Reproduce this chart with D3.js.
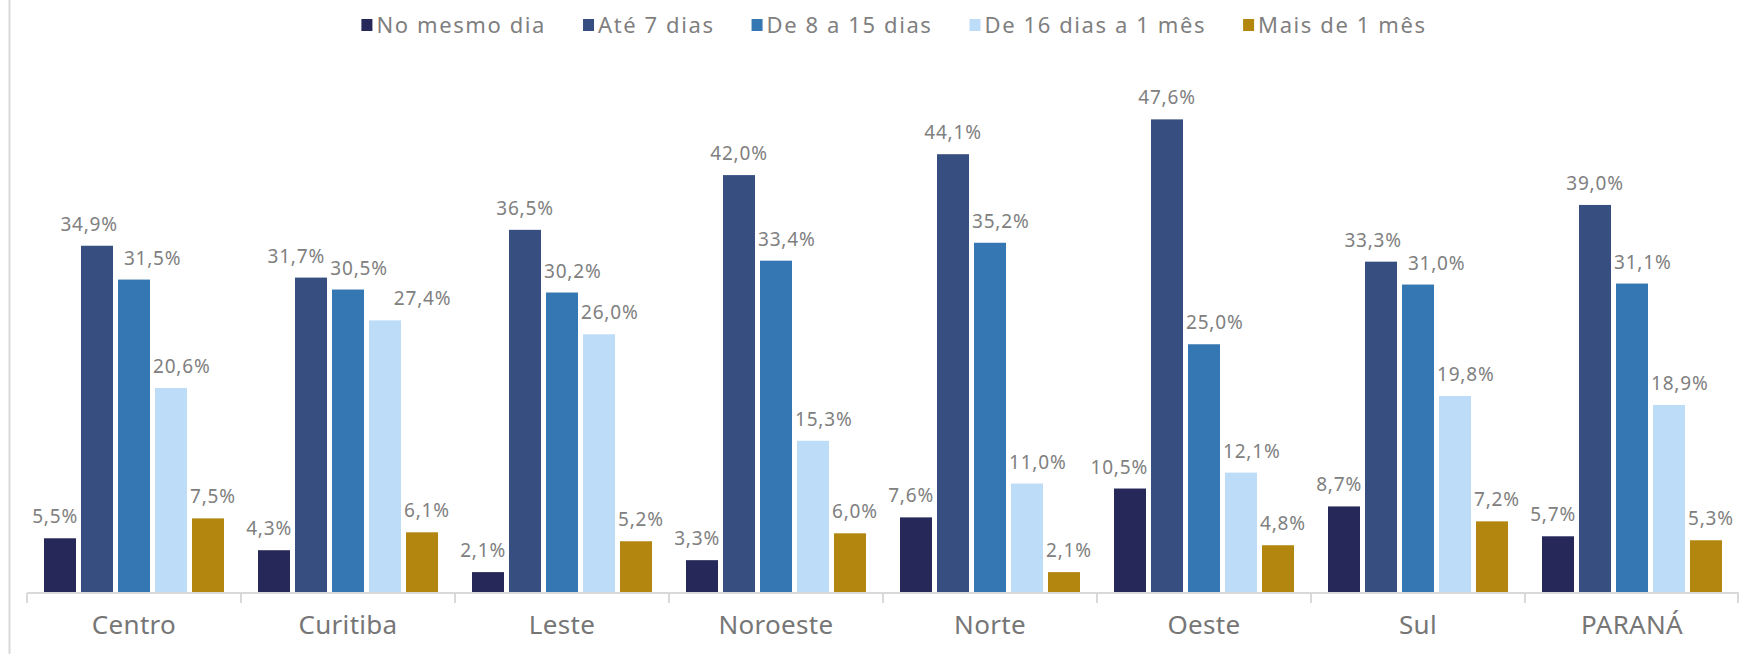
<!DOCTYPE html>
<html>
<head>
<meta charset="utf-8">
<script src="https://cdn.jsdelivr.net/npm/d3@7"></script>
<style>
  body { margin: 0; background: #fff; }
  svg text { font-family: "Noto Sans", "Open Sans", sans-serif; }
</style>
</head>
<body>
<div id="chart-div"></div>
<script>
// dados ------------------------------------------------------------------
const categories = ['Centro', 'Curitiba', 'Leste', 'Noroeste', 'Norte', 'Oeste', 'Sul', 'PARANÁ'];
const seriesNames = ['No mesmo dia', 'Até 7 dias', 'De 8 a 15 dias', 'De 16 dias a 1 mês', 'Mais de 1 mês'];
const noMesmoDia = [5.5, 4.3, 2.1, 3.3, 7.6, 10.5, 8.7, 5.7];
const ate7Dias   = [34.9, 31.7, 36.5, 42.0, 44.1, 47.6, 33.3, 39.0];
const de8a15     = [31.5, 30.5, 30.2, 33.4, 35.2, 25.0, 31.0, 31.1];
const de16a1Mes  = [20.6, 27.4, 26.0, 15.3, 11.0, 12.1, 19.8, 18.9];
const mais1Mes   = [7.5, 6.1, 5.2, 6.0, 2.1, 4.8, 7.2, 5.3];
const seriesValues = [noMesmoDia, ate7Dias, de8a15, de16a1Mes, mais1Mes];
const colors = ['#27285A', '#374E81', '#3577B3', '#BDDCF8', '#B3860F'];

// tamanho ----------------------------------------------------------------
const width = 1739, height = 654;
const plotLeft = 27, plotRight = 1739, baseY = 593;

const svg = d3.select('#chart-div')
  .append('svg')
  .attr('width', width)
  .attr('height', height);

// borda esquerda
svg.append('line')
  .attr('x1', 9.5).attr('x2', 9.5)
  .attr('y1', 0).attr('y2', height)
  .attr('stroke', '#d9d9d9')
  .attr('stroke-width', 2);

// escalas ----------------------------------------------------------------
const x0 = d3.scaleBand()
  .domain(categories)
  .range([plotLeft, plotRight]);
const gp = 17;
const x1 = d3.scaleBand()
  .domain(seriesNames)
  .range([gp, x0.bandwidth() - gp])
  .paddingInner(0.135);
const y = d3.scaleLinear()
  .domain([0, 50])
  .range([baseY, baseY - 497.5]);

const fmt = v => d3.format('.1f')(v).replace('.', ',') + '%';

// barras -----------------------------------------------------------------
const groups = svg.append('g')
  .selectAll('g')
  .data(categories)
  .enter()
  .append('g')
  .attr('transform', d => 'translate(' + x0(d) + ',0)');

const rowOf = (c, i) => seriesNames.map((s, j) => ({s: s, j: j, v: seriesValues[j][i]}));

groups.selectAll('rect')
  .data(rowOf)
  .enter()
  .append('rect')
  .attr('x', d => x1(d.s))
  .attr('y', d => y(d.v))
  .attr('width', x1.bandwidth())
  .attr('height', d => baseY - y(d.v))
  .attr('fill', d => colors[d.j]);

const labels = groups.selectAll('text')
  .data(rowOf)
  .enter()
  .append('text')
  .attr('text-anchor', 'middle')
  .attr('y', d => y(d.v) - 15)
  .attr('font-size', '19px')
  .attr('letter-spacing', '0.8px')
  .attr('fill', '#808080')
  .text(d => fmt(d.v));

// rótulos: desviar das barras vizinhas e dos outros rótulos (como o Excel)
const pad = 3, labelH = 36;
groups.each(function () {
  const ls = d3.select(this).selectAll('text').nodes();
  const info = ls.map(n => {
    const d = d3.select(n).datum();
    return {
      d: d,
      cx: x1(d.s) + x1.bandwidth() / 2,
      w: n.getComputedTextLength(),
      base: y(d.v) - 15
    };
  });
  for (let it = 0; it < 4; it++) {
    // barras vizinhas
    info.forEach((a, k) => {
      const half = a.w / 2 + pad;
      if (k > 0) {
        const nb = info[k - 1].d;
        if (y(nb.v) < a.base + 6) {
          const right = x1(nb.s) + x1.bandwidth();
          if (a.cx - half < right) a.cx = right + half;
        }
      }
      if (k < info.length - 1) {
        const nb = info[k + 1].d;
        if (y(nb.v) < a.base + 6) {
          const left = x1(nb.s);
          if (a.cx + half > left) a.cx = left - half;
        }
      }
    });
    // rótulos vizinhos
    for (let k = 0; k < info.length - 1; k++) {
      const a = info[k], b = info[k + 1];
      if (Math.abs(a.base - b.base) < labelH) {
        const ov = (a.cx + a.w / 2 + pad) - (b.cx - b.w / 2 - pad);
        if (ov > 0) { a.cx -= ov / 2; b.cx += ov / 2; }
      }
    }
  }
  ls.forEach((n, k) => d3.select(n).attr('x', info[k].cx));
});

// eixo x -----------------------------------------------------------------
const xAxis = svg.append('g')
  .attr('transform', 'translate(0,' + baseY + ')');
xAxis.append('line')
  .attr('x1', plotLeft).attr('x2', plotRight)
  .attr('stroke', '#d9d9d9').attr('stroke-width', 2);
xAxis.selectAll('.tick')
  .data(categories.concat(['_end']))
  .enter()
  .append('line')
  .attr('x1', d => d === '_end' ? plotRight - 1 : x0(d))
  .attr('x2', d => d === '_end' ? plotRight - 1 : x0(d))
  .attr('y1', 0).attr('y2', 10)
  .attr('stroke', '#d9d9d9').attr('stroke-width', 2);
xAxis.selectAll('.cat')
  .data(categories)
  .enter()
  .append('text')
  .attr('x', d => x0(d) + x0.bandwidth() / 2)
  .attr('y', 41)
  .attr('text-anchor', 'middle')
  .attr('font-size', '26px')
  .attr('letter-spacing', '0.3px')
  .attr('fill', '#767676')
  .text(d => d);

// legenda ----------------------------------------------------------------
const legend = svg.append('g');
const sq = 11, sqGap = 4, itemGap = 37;
const items = legend.selectAll('g')
  .data(seriesNames)
  .enter()
  .append('g');
items.append('rect')
  .attr('width', sq).attr('height', sq + 1)
  .attr('y', 19)
  .attr('fill', (d, i) => colors[i]);
items.append('text')
  .attr('x', sq + sqGap)
  .attr('y', 33)
  .attr('font-size', '22px')
  .attr('letter-spacing', '1.6px')
  .attr('fill', '#7f7f7f')
  .text(d => d);
let pos = 0;
const offsets = [];
items.each(function () {
  offsets.push(pos);
  const w = d3.select(this).select('text').node().getComputedTextLength();
  pos += sq + sqGap + w + itemGap;
});
const total = pos - itemGap;
const startX = 894 - total / 2;
items.attr('transform', (d, i) => 'translate(' + (startX + offsets[i]) + ',0)');
</script>
</body>
</html>
